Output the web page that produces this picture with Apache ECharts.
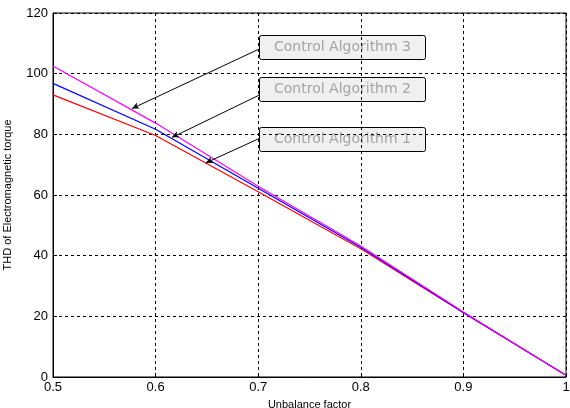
<!DOCTYPE html>
<html><head><meta charset="utf-8">
<script src="https://cdn.jsdelivr.net/npm/echarts@6/dist/echarts.min.js"></script>
<style>html,body{margin:0;padding:0;background:#fff}#c{width:570px;height:408px}</style>
</head><body><div id="c"></div>
<script>
const xValues = [0.5, 0.6, 0.7, 0.8, 0.9, 1.0];
const alg1 = [93.0, 79.6, 61.1, 42.3, 21.2, 0.6];
const alg2 = [96.8, 81.7, 62.2, 42.8, 21.3, 0.6];
const alg3 = [102.5, 83.7, 62.9, 43.2, 21.4, 0.6];
const seriesNames = ['Control Algorithm 1', 'Control Algorithm 2', 'Control Algorithm 3'];
const seriesColors = ['#ff0000', '#0000ff', '#ff00ff'];
// annotation arrows: [start(x,y), end(x,y)] in data units
const arrows = [
  [[0.7008, 78.6], [0.649, 70.6]],
  [[0.7008, 92.9], [0.616, 79.0]],
  [[0.7008, 108.1], [0.577, 88.5]]
];
const boxTops = [127, 77, 35];

const chart = echarts.init(document.getElementById('c'));
const font = 'Liberation Sans, Arial, sans-serif';
const dataSets = [alg1, alg2, alg3];
const series = dataSets.map((d, i) => ({
  name: seriesNames[i], type: 'line', symbol: 'none', z: 3,
  data: xValues.map((x, j) => [x, d[j]]),
  lineStyle: { color: seriesColors[i], width: 1.2 },
  markLine: {
    silent: true, symbol: ['none', 'arrow'], symbolSize: [5, 7],
    lineStyle: { color: '#000', width: 1, type: 'solid' },
    label: { show: false },
    data: [[{ coord: arrows[i][0] }, { coord: arrows[i][1] }]]
  }
}));
const graphics = seriesNames.map((n, i) => ({
  type: 'group', left: 259, top: boxTops[i], z: 10,
  children: [
    { type: 'rect', shape: { x: 0, y: 0, width: 166, height: 24, r: 2 },
      style: { fill: '#f0f0f0', stroke: '#000', lineWidth: 1 } },
    { type: 'text', x: 83, y: 12,
      style: { text: n, fill: '#a4a4a4', font: '14px DejaVu Sans, sans-serif', align: 'center', verticalAlign: 'middle' } }
  ]
}));
chart.setOption({
  animation: false,
  grid: { left: 53, right: 4, top: 13, bottom: 31, show: true, borderColor: '#000', borderWidth: 1,
          outerBoundsMode: 'none', containLabel: false },
  xAxis: {
    type: 'value', min: 0.5, max: 1.0, interval: 0.1,
    name: 'Unbalance factor', nameLocation: 'middle', nameGap: 22,
    nameTextStyle: { fontFamily: font, fontSize: 11, color: '#000' },
    axisLine: { lineStyle: { color: '#000' } },
    axisTick: { inside: true, length: 4, lineStyle: { color: '#000' } },
    axisLabel: { fontFamily: font, fontSize: 13, color: '#000', margin: 4,
      formatter: v => (Math.abs(v - 1) < 1e-9 ? '1' : v.toFixed(1)) },
    splitLine: { show: true, lineStyle: { color: '#000', type: [3, 3], width: 1 } }
  },
  yAxis: {
    type: 'value', min: 0, max: 120, interval: 20,
    name: 'THD of Electromagnetic torque', nameLocation: 'middle', nameGap: 40,
    nameTextStyle: { fontFamily: font, fontSize: 11, color: '#000' },
    axisLine: { lineStyle: { color: '#000' } },
    axisTick: { inside: true, length: 4, lineStyle: { color: '#000' } },
    axisLabel: { fontFamily: font, fontSize: 13, color: '#000', margin: 5 },
    splitLine: { show: true, lineStyle: { color: '#000', type: [3, 3], width: 1 } }
  },
  series: series,
  graphic: graphics
});
</script></body></html>
